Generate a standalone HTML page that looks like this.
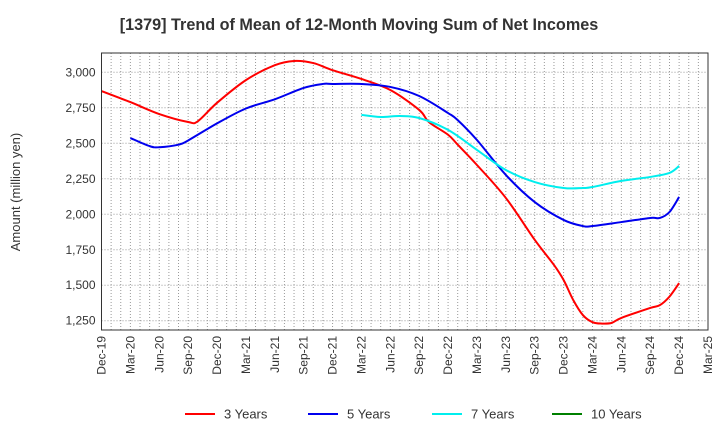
<!DOCTYPE html>
<html><head><meta charset="utf-8"><style>
body{margin:0;background:#fff;font-family:"Liberation Sans",Arial,sans-serif}
</style></head><body>
<svg id="c" width="720" height="440" xmlns="http://www.w3.org/2000/svg" font-family="Liberation Sans, Arial, sans-serif">
<text x="359" y="30" text-anchor="middle" font-size="16.2" font-weight="bold" fill="#333">[1379]  Trend of Mean of 12-Month Moving Sum of Net Incomes</text>
<text transform="translate(20,192) rotate(-90)" text-anchor="middle" font-size="13" fill="#333">Amount (million yen)</text>
<g id="grid"></g><g id="series"></g><g id="axes"></g>
<g id="legend"></g>
</svg>
<script>
const xLabels=["Dec-19","Mar-20","Jun-20","Sep-20","Dec-20","Mar-21","Jun-21","Sep-21","Dec-21","Mar-22","Jun-22","Sep-22","Dec-22","Mar-23","Jun-23","Sep-23","Dec-23","Mar-24","Jun-24","Sep-24","Dec-24","Mar-25"];
const yTicks=[1250,1500,1750,2000,2250,2500,2750,3000];
const months3=[0,3,6,9,10,12,15,18,20,22,24,27,30,33,34,36,37,39,42,45,47,48,49,50,51,52,53,54,57,58,59,60];
const vals3=[2868,2790,2706,2650,2655,2785,2945,3050,3080,3065,3015,2953,2875,2735,2650,2560,2490,2347,2115,1820,1643,1537,1396,1290,1240,1230,1235,1270,1340,1360,1420,1515];
const months5=[3,5,6,8,9,12,15,18,21,23,24,27,30,33,36,37,39,42,45,48,50,51,54,57,58,59,60];
const vals5=[2537,2480,2472,2490,2520,2640,2745,2810,2890,2918,2918,2918,2897,2833,2713,2663,2523,2277,2086,1960,1917,1917,1945,1974,1974,2016,2122];
const months7=[27,29,31,33,36,39,42,45,48,50,51,54,57,59,60];
const vals7=[2700,2685,2692,2678,2594,2453,2312,2227,2185,2185,2192,2235,2263,2291,2340];
const months10=[];const vals10=[];
const L=101.5,R=708,T=53,B=330;
const X=m=>L+(R-L)*m/63;
const Y=v=>72.3+(3000-v)/250*35.49;
const ns="http://www.w3.org/2000/svg";
function mk(t,a,p){const e=document.createElementNS(ns,t);for(const k in a)e.setAttribute(k,a[k]);p.appendChild(e);return e;}
const grid=document.getElementById('grid'),axes=document.getElementById('axes'),ser=document.getElementById('series'),leg=document.getElementById('legend');
for(let m=1;m<63;m++){const l=mk('line',{x1:X(m),x2:X(m),y1:T,y2:B,stroke:'#999','stroke-dasharray':'1,2','stroke-width':1},grid);

}
yTicks.forEach(v=>{const l=mk('line',{x1:L,x2:R,y1:Y(v),y2:Y(v),stroke:'#999','stroke-dasharray':'1,2'},grid);


const t=mk('text',{x:L-6,y:Y(v)+4,'text-anchor':'end','font-size':12,fill:'#333'},axes);t.textContent=v.toLocaleString('en-US');

});
const fr=mk('rect',{x:L,y:T,width:R-L,height:B-T,fill:'none',stroke:'#333'},axes);


xLabels.forEach((s,i)=>{const x=X(i*3);const t=mk('text',{transform:`translate(${x+4},${B+6}) rotate(-90)`,'text-anchor':'end','font-size':12,fill:'#333'},axes);t.textContent=s;

});
function path(ms,vs){const p=ms.map((m,i)=>[X(m),Y(vs[i])]);if(!p.length)return'';let d=`M${p[0][0]},${p[0][1]}`;
for(let i=0;i<p.length-1;i++){const p0=p[i-1]||p[i],p1=p[i],p2=p[i+1],p3=p[i+2]||p2;
d+=` C${p1[0]+(p2[0]-p0[0])/6},${p1[1]+(p2[1]-p0[1])/6} ${p2[0]-(p3[0]-p1[0])/6},${p2[1]-(p3[1]-p1[1])/6} ${p2[0]},${p2[1]}`;}return d;}
const S=[["3 Years",months3,vals3,"#ff0000"],["5 Years",months5,vals5,"#0000ee"],["7 Years",months7,vals7,"#00eeee"],["10 Years",months10,vals10,"#008000"]];
const lx=[185,308,432,552];
S.forEach((s,i)=>{if(s[1].length){const p=mk('path',{d:path(s[1],s[2]),fill:'none',stroke:s[3],'stroke-width':2},ser);

}
const g=mk('g',{},leg);


mk('line',{x1:lx[i],x2:lx[i]+30,y1:414,y2:414,stroke:s[3],'stroke-width':2},g);
const t=mk('text',{x:lx[i]+39,y:418.5,'font-size':13,fill:'#333'},g);t.textContent=s[0];});
</script>
</body></html>
